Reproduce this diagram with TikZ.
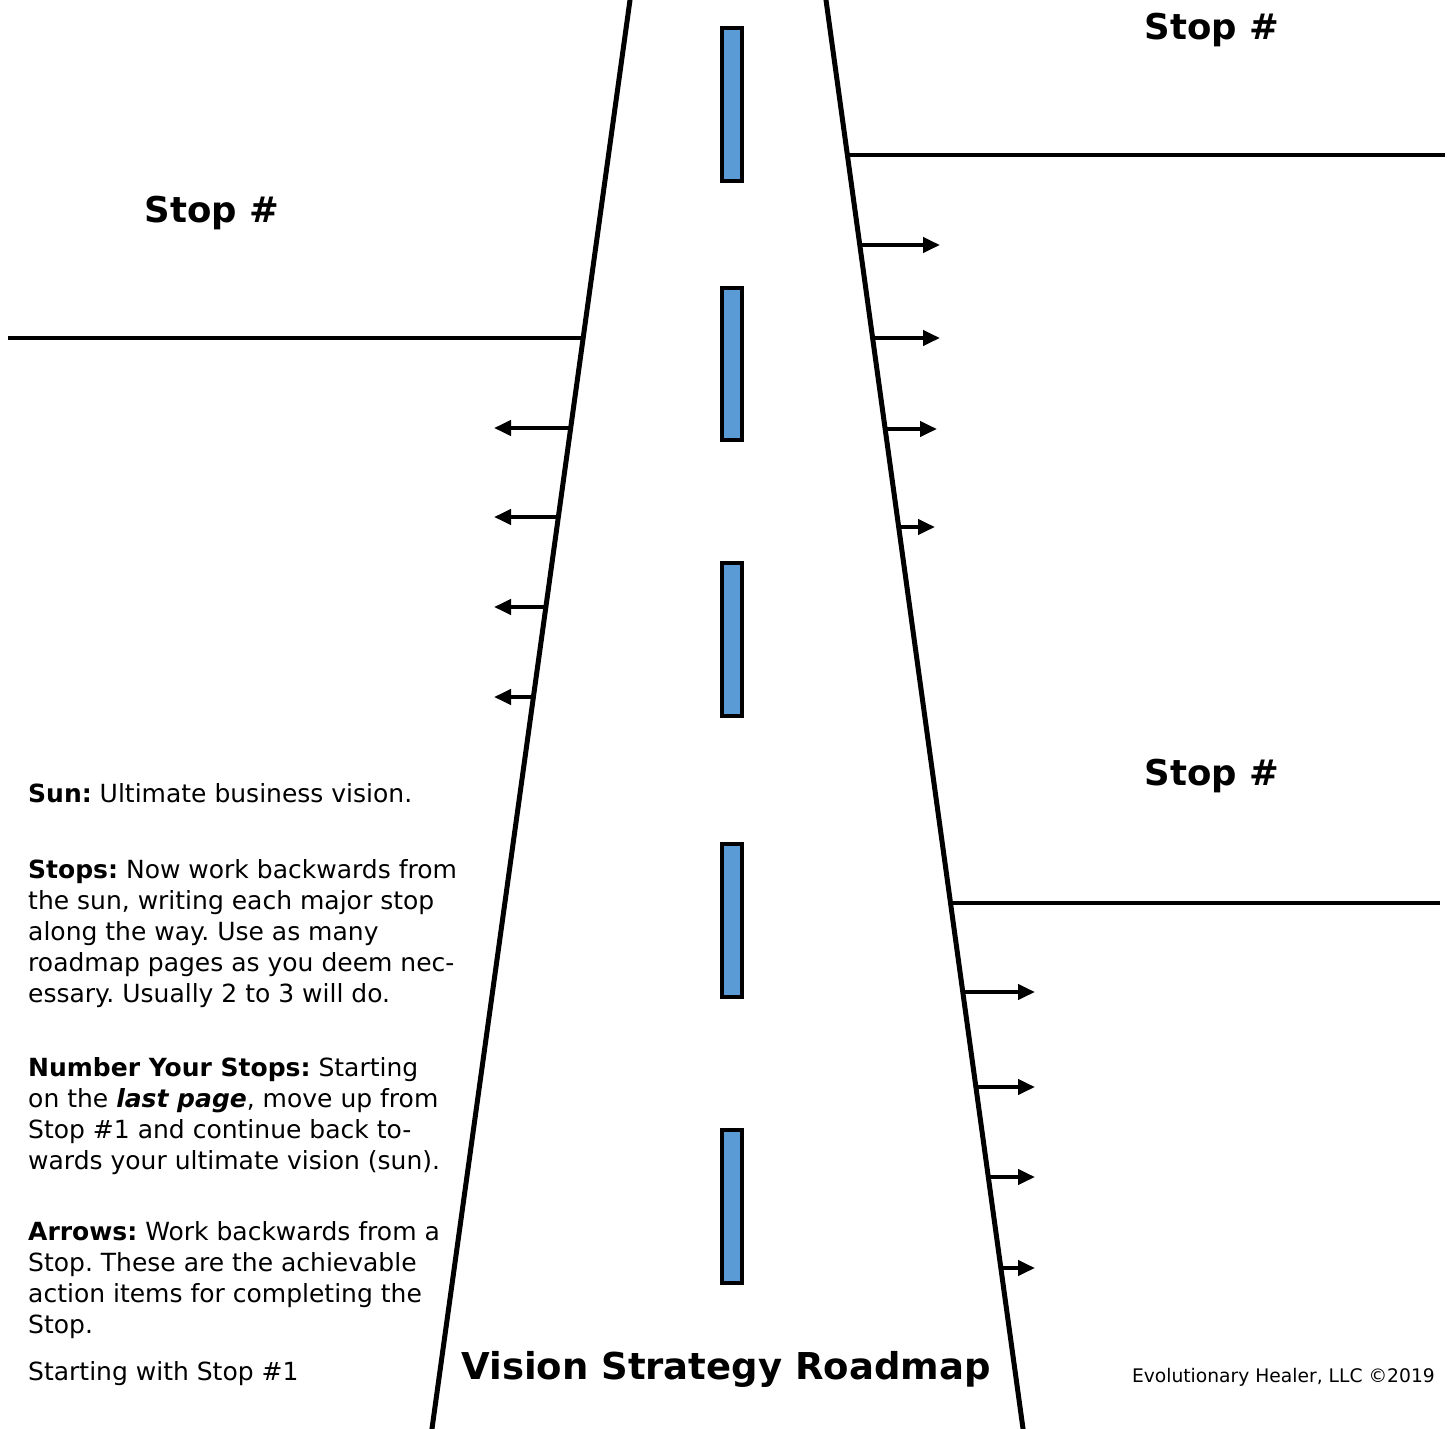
\documentclass[tikz,border=0pt]{standalone}
\usepackage{fontspec}
\setmainfont{DejaVu Sans}
\usetikzlibrary{arrows.meta, math}
\definecolor{lanefill}{HTML}{5B9BD5}
\tikzset{
	roadmap/.is family,
	roadmap/.cd,
	road edge/.style = {
		line width = 5pt,
	},
	stop line/.style = {
		line width = 4pt,
	},
	lane mark/.style = {
		draw = black,
		line width = 4pt,
		fill = lanefill,
	},
	action/.style = {
		line width = 4pt,
		-{Triangle[length = 17pt, width = 15pt]},
	},
	stop label/.style = {
		anchor = base,
		inner sep = 0pt,
		font = \fontsize{35.5}{42}\selectfont\bfseries,
	},
	% anchor is the baseline of the last line
	note/.style = {
		anchor = base west,
		align = left,
		inner sep = 0pt,
		font = \fontsize{25}{31}\selectfont\frenchspacing,
	},
}

\begin{document}
\begin{tikzpicture}[x = 1pt, y = -1pt]
	\useasboundingbox (0, 0) rectangle (1452, 1429);
	% the two edges of the road
	\tikzmath{
		function roadleft(\y) {return 630 - 0.1386 * \y;};
		function roadright(\y) {return 826 + 0.1379 * \y;};
		\edgelt = roadleft(-10); \edgelb = roadleft(1440);
		\edgert = roadright(-10); \edgerb = roadright(1440);
	}
	\coordinate (left top) at (\edgelt, -10);
	\coordinate (left bottom) at (\edgelb, 1440);
	\coordinate (right top) at (\edgert, -10);
	\coordinate (right bottom) at (\edgerb, 1440);
	% lane marks
	\foreach \ya/\yb in {28/181, 288/440, 563/716, 844/997, 1130/1283}{
		\draw[roadmap/lane mark] (722, \ya) rectangle (742, \yb);
	}
	% stops
	\tikzmath{
		\stopxa = roadright(155);
		\stopxb = roadleft(338);
		\stopxc = roadright(903);
	}
	\coordinate (stop1-road) at (\stopxa, 155);
	\coordinate (stop1-end) at (1445, 155);
	\coordinate (stop2-road) at (\stopxb, 338);
	\coordinate (stop2-end) at (8, 338);
	\coordinate (stop3-road) at (\stopxc, 903);
	\coordinate (stop3-end) at (1440, 903);
	\draw[roadmap/stop line] (stop1-road) -- (stop1-end);
	\draw[roadmap/stop line] (stop2-road) -- (stop2-end);
	\draw[roadmap/stop line] (stop3-road) -- (stop3-end);
	\node[roadmap/stop label] (stop1) at (1212, 40) {Stop \#};
	\node[roadmap/stop label] (stop2) at (212, 222) {Stop \#};
	\node[roadmap/stop label] (stop3) at (1212, 785) {Stop \#};
	% action items
	\foreach \y/\e [count = \i] in {245/940, 338/940, 429/937, 527/935}{
		\tikzmath{\actx = roadright(\y);}
		\coordinate (act1-\i) at (\actx, \y);
		\coordinate (act1-\i-tip) at (\e, \y);
		\draw[roadmap/action] (act1-\i) -- (act1-\i-tip);
	}
	\foreach \y [count = \i] in {428, 517, 607, 697}{
		\tikzmath{\actx = roadleft(\y);}
		\coordinate (act2-\i) at (\actx, \y);
		\coordinate (act2-\i-tip) at (494, \y);
		\draw[roadmap/action] (act2-\i) -- (act2-\i-tip);
	}
	\foreach \y [count = \i] in {992, 1087, 1177, 1268}{
		\tikzmath{\actx = roadright(\y);}
		\coordinate (act3-\i) at (\actx, \y);
		\coordinate (act3-\i-tip) at (1035, \y);
		\draw[roadmap/action] (act3-\i) -- (act3-\i-tip);
	}
	\draw[roadmap/road edge] (left top) -- (left bottom);
	\draw[roadmap/road edge] (right top) -- (right bottom);
	% legend
	\node[roadmap/note] (sun) at (28, 802) {\textbf{Sun:} Ultimate business vision.};
	\node[roadmap/note] (stops) at (28, 1002) {\textbf{Stops:} Now work backwards from\\
		the sun, writing each major stop\\
		along the way. Use as many\\
		roadmap pages as you deem nec-\\
		essary. Usually 2 to 3 will do.};
	\node[roadmap/note] (number) at (28, 1169) {\textbf{Number Your Stops:} Starting\\
		on the \textbf{\itshape last page}, move up from\\
		Stop \#1 and continue back to-\\
		wards your ultimate vision (sun).};
	\node[roadmap/note] (arrows) at (28, 1333) {\textbf{Arrows:} Work backwards from a\\
		Stop. These are the achievable\\
		action items for completing the\\
		Stop.};
	\node[roadmap/note] (start) at (28, 1380) {Starting with Stop \#1};
	\node[anchor = base, inner sep = 0pt, font = \fontsize{37}{44}\selectfont\bfseries] (title) at (726, 1379) {Vision Strategy Roadmap};
	\node[anchor = base east, inner sep = 0pt, font = \fontsize{18.7}{22}\selectfont] (credit) at (1435, 1382) {Evolutionary Healer, LLC ©2019};
\end{tikzpicture}
\end{document}
